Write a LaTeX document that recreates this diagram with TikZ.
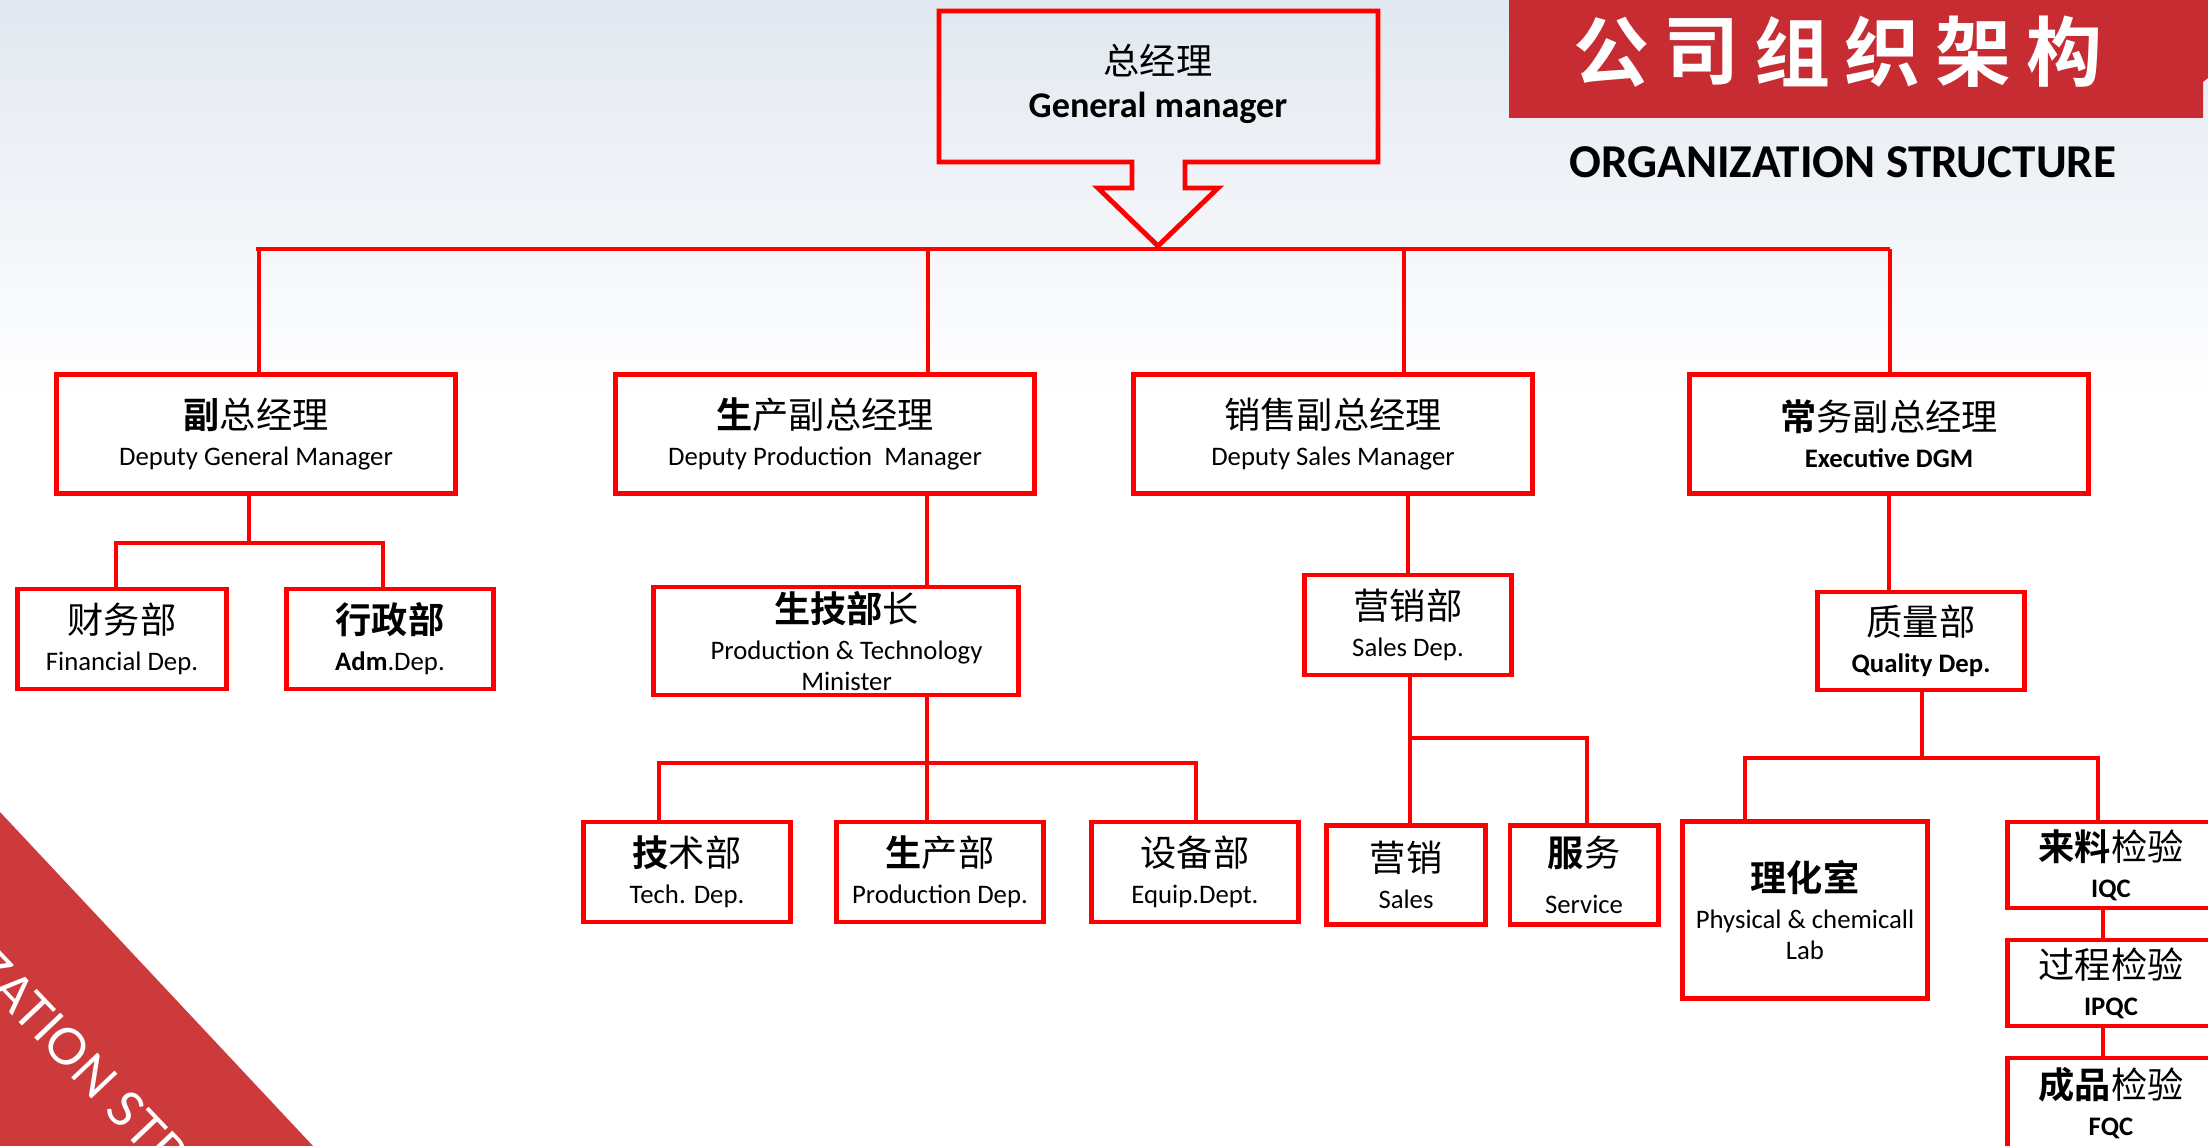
\documentclass[tikz,border=0pt]{standalone}
\usepackage{fontspec}
\setmainfont{Carlito}
\newfontfamily\cjk{Noto Sans CJK SC}[BoldFont={Noto Sans CJK SC Bold}]
\newfontfamily\lato{Lato}
\definecolor{LineRed}{RGB}{255,0,0}
\definecolor{BannerRed}{RGB}{198,44,50}
\definecolor{BandRed}{RGB}{205,58,60}
\definecolor{SkyGray}{RGB}{226,232,240}
\newcommand{\zhsize}{\fontsize{10.3}{10.5}\selectfont}
\newcommand{\ensize}{\fontsize{7.6}{10.5}\selectfont}
\newcommand{\zh}[1]{{\cjk\zhsize #1}}
\newcommand{\en}[1]{{\ensize #1}}

\begin{document}
\begin{tikzpicture}[x=0.01cm, y=-0.01cm,
    box/.style={draw=LineRed, line width=1.4pt, inner sep=0pt, align=center, font=\ensize},
    vpbox/.style={box, minimum width=3.98cm, minimum height=1.19cm},
    deptbox/.style={box, minimum width=2.06cm, minimum height=1.0cm},
    qcbox/.style={box, minimum width=2.07cm, minimum height=0.86cm},
    link/.style={draw=LineRed, line width=1.4pt},
    titlechar/.style={font=\cjk\fontsize{21.6}{22}\selectfont\bfseries, text=white, inner sep=0pt}]
    \useasboundingbox (0,0) rectangle (2208,1146);
    \clip (0,0) rectangle (2208,1146);
    % Sky background
    \shade[top color=SkyGray, bottom color=white] (0,0) rectangle (2208,400);
    % Bottom-left band
    \fill[BandRed] (0,812) -- (313,1146) -- (0,1146) -- cycle;
    \begin{scope}
        \clip (0,812) -- (313,1146) -- (0,1146) -- cycle;
        \node[rotate=-46.5, text=white, font=\lato\fontsize{14.3}{15}\selectfont, inner sep=0pt] (band) at (81,1061) {ORGANIZATION STRUCTURE};
    \end{scope}
    % Title banner
    \fill[BannerRed] (1509,0) -- (2208,0) -- (2208,78) -- (2203,82) -- (2203,118) -- (1509,118) -- cycle;
    \foreach \c [count=\i from 0] in {公,司,组,织,架,构}
        \node[titlechar] (title\i) at (1611+90.6*\i, 52) {\c};
    \node[font=\fontsize{13.4}{14}\selectfont\bfseries, inner sep=0pt] (subtitle) at (1843,162) {ORGANIZATION STRUCTURE};
    % General manager with arrow outline
    \draw[LineRed, line width=1.4pt] (939,162) -- (1132,162) -- (1132,188) -- (1098,188) -- (1158,246)
        -- (1218,188) -- (1185,188) -- (1185,162) -- (1378,162) -- (1378,11) -- (939,11) -- cycle;
    \node[font=\ensize, align=center] (gm) at (1158,84) {\zh{总经理}\\[1.7pt]{\fontsize{10.3}{10.5}\selectfont\bfseries General manager}};
    % Deputy managers
    \node[vpbox] (dgm) at (256,434) {\zh{\textbf{副}总经理}\\\en{Deputy General Manager}};
    \node[vpbox, minimum width=4.19cm] (dpm) at (825,434) {\zh{\textbf{生}产副总经理}\\\en{Deputy Production\ \ Manager}};
    \node[vpbox] (dsm) at (1333,434) {\zh{销售副总经理}\\\en{Deputy Sales Manager}};
    \node[vpbox] (edgm) at (1889,434) {\zh{\textbf{常}务副总经理}\\\en{\textbf{Executive DGM}}};
    % Departments
    \node[deptbox, minimum width=2.08cm] (fin) at (122,639) {\zh{财务部}\\\en{Financial Dep.}};
    \node[deptbox] (adm) at (390,639) {\zh{\textbf{行政部}}\\\en{\textbf{Adm}.Dep.}};
    \node[box, minimum width=3.65cm, minimum height=1.08cm] (ptm) at (836,641) {\zh{\hspace*{6pt}\textbf{生技部}长}\\\en{\hspace*{6pt}Production \& Technology}\\[-1.7pt]\en{\hspace*{6pt}Minister}};
    \node[deptbox] (salesdep) at (1408,625) {\zh{营销部}\\\en{Sales Dep.}};
    \node[deptbox, minimum height=0.98cm] (quality) at (1921,641) {\zh{质量部}\\\en{\textbf{Quality Dep.}}};
    \node[deptbox] (tech) at (687,872) {\zh{\textbf{技}术部}\\\en{Tech. Dep.}};
    \node[deptbox] (prod) at (940,872) {\zh{\textbf{生}产部}\\\en{Production Dep.}};
    \node[deptbox, minimum width=2.07cm] (equip) at (1195,872) {\zh{设备部}\\\en{Equip.Dept.}};
    \node[box, minimum width=1.59cm, minimum height=0.99cm] (mkt) at (1406,875) {\zh{营销}\\\en{Sales}};
    \node[box, minimum width=1.48cm, minimum height=0.99cm] (svc) at (1584,875) {\zh{\textbf{服}务}\\[3pt]\en{Service}};
    \node[box, minimum width=2.44cm, minimum height=1.76cm] (lab) at (1805,910) {\zh{\textbf{理化室}}\\\en{Physical \& chemicall}\\[-1.7pt]\en{Lab}};
    \node[qcbox] (iqc) at (2111,865) {\zh{\textbf{来料}检验}\\\en{\textbf{IQC}}};
    \node[qcbox] (ipqc) at (2111,983) {\zh{过程检验}\\\en{\textbf{IPQC}}};
    \node[qcbox, minimum height=0.90cm] (fqc) at (2111,1103) {\zh{\textbf{成品}检验}\\\en{\textbf{FQC}}};
    % Main bus
    \coordinate (busL) at (256,249);
    \coordinate (busR) at (1890,249);
    \draw[link] (busL) -- (busR);
    \foreach \n/\x in {dgm/259, dpm/928, dsm/1404, edgm/1890} {
        \coordinate (tap-\n) at (\x,249);
        \draw[link] (tap-\n) -- (tap-\n |- \n.north);
    }
    % Under deputy general manager
    \coordinate (jDgm) at (249,543);
    \draw[link] (dgm.south -| jDgm) -- (jDgm);
    \draw[link] (fin.north -| 116,0) |- (jDgm) -| (adm.north -| 383,0);
    % Production branch
    \draw[link] (dpm.south -| 927,0) -- (ptm.north -| 927,0);
    \coordinate (jPtm) at (927,763);
    \draw[link] (ptm.south -| jPtm) -- (prod.north -| jPtm);
    \draw[link] (tech.north -| 659,0) |- (jPtm) -| (equip.north -| 1196,0);
    % Sales branch
    \draw[link] (dsm.south -| 1408,0) -- (salesdep.north -| 1408,0);
    \coordinate (jSales) at (1410,738);
    \draw[link] (salesdep.south -| jSales) -- (mkt.north -| jSales);
    \draw[link] (jSales) -| (svc.north -| 1587,0);
    % Quality branch
    \draw[link] (edgm.south -| 1889,0) -- (quality.north -| 1889,0);
    \coordinate (jQual) at (1922,758);
    \draw[link] (quality.south -| jQual) -- (jQual);
    \draw[link] (lab.north -| 1745,0) |- (jQual) -| (iqc.north -| 2098,0);
    \draw[link] (iqc.south -| 2103,0) -- (ipqc.north -| 2103,0);
    \draw[link] (ipqc.south -| 2103,0) -- (fqc.north -| 2103,0);
\end{tikzpicture}
\end{document}
